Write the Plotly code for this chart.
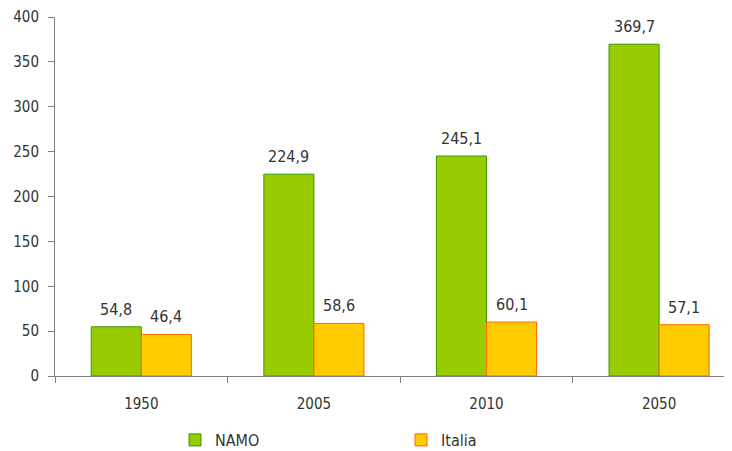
import plotly.graph_objects as go

categories = ["1950", "2005", "2010", "2050"]
namo = [54.8, 224.9, 245.1, 369.7]
italia = [46.4, 58.6, 60.1, 57.1]
y_ticks = [0, 50, 100, 150, 200, 250, 300, 350, 400]

FONT = "DejaVu Sans Condensed, Liberation Sans Narrow, sans-serif"
TXT = "#333333"
W, H = 724, 443  # page body has an 8px margin
CAT_PX = 172.6
BARGAP = 0.42
HALF = CAT_PX * (1 - BARGAP) / 4  # half of one bar's width in px

fig = go.Figure()
fig.add_trace(go.Bar(
    x=categories, y=namo, name="NAMO",
    marker=dict(color="#99CC00", line=dict(color="#339900", width=1)),
))
fig.add_trace(go.Bar(
    x=categories, y=italia, name="Italia",
    marker=dict(color="#FFCC00", line=dict(color="#FF6600", width=1)),
))

annotations = []
for series, shift in ((namo, -HALF), (italia, HALF)):
    for i, v in enumerate(series):
        annotations.append(dict(
            x=i, y=v, xref="x", yref="y", xshift=shift, yshift=6,
            yanchor="bottom", showarrow=False,
            text=f"{v:.1f}".replace(".", ","),
            font=dict(family=FONT, size=16, color=TXT),
        ))

fig.update_layout(
    width=W, height=H,
    margin=dict(l=47, r=0, t=9, b=75, autoexpand=False),
    paper_bgcolor="white", plot_bgcolor="white",
    barmode="group", bargap=BARGAP, bargroupgap=0,
    separators=",.",
    font=dict(family=FONT, size=15, color=TXT),
    annotations=annotations,
    showlegend=True,
    legend=dict(orientation="h", xref="container", x=167 / W, xanchor="left",
                yref="container", y=1 - 415 / H, yanchor="top",
                entrywidth=181, font=dict(family=FONT, size=16, color=TXT),
                traceorder="normal"),
    xaxis=dict(
        type="category", range=[-0.5, -0.5 + 677 / CAT_PX], automargin=False,
        showline=True, linecolor="#808080", linewidth=1,
        ticks="outside", tickson="boundaries", ticklen=6, tickcolor="#808080",
        ticklabelstandoff=14,
        showgrid=False, zeroline=False,
        tickfont=dict(family=FONT, size=15, color=TXT),
    ),
    yaxis=dict(
        range=[0, 400], tickvals=y_ticks, automargin=False,
        showline=True, linecolor="#808080", linewidth=1,
        ticks="outside", ticklen=6, tickcolor="#808080",
        ticklabelstandoff=6,
        showgrid=False, zeroline=False,
        tickfont=dict(family=FONT, size=15, color=TXT),
    ),
)

fig.write_html("out.html")
